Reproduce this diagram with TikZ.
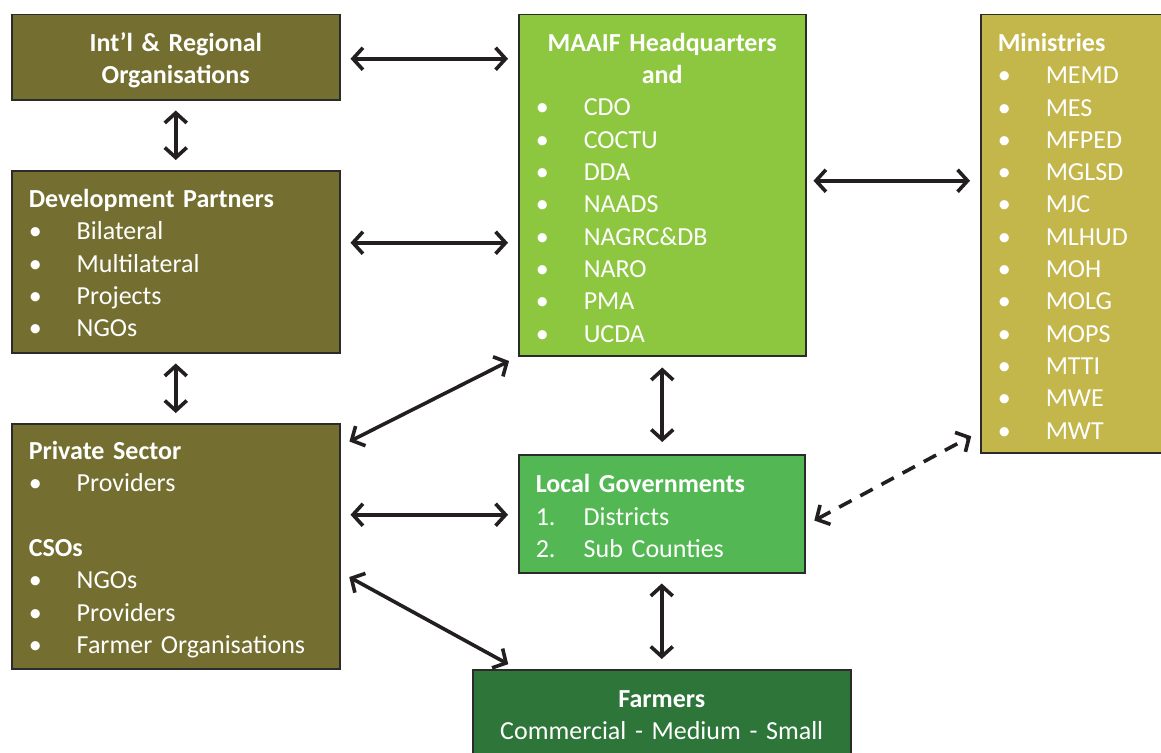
\documentclass[tikz,border=0pt]{standalone}
\usepackage{fontspec}
\setmainfont{Carlito}
\usetikzlibrary{arrows.meta,positioning}
\definecolor{dpolive}{HTML}{746F30}
\definecolor{hqgreen}{HTML}{8DC63F}
\definecolor{minmustard}{HTML}{C3B64A}
\definecolor{lggreen}{HTML}{53B853}
\definecolor{frgreen}{HTML}{2D7539}
\definecolor{boxline}{HTML}{2B2B2B}
\definecolor{arrowc}{HTML}{231F20}
\newcommand{\itm}[1]{\makebox[48pt][l]{\textbullet}#1}
\newcommand{\num}[2]{\makebox[48pt][l]{#1}#2}
\newcommand{\topgap}[1]{\rule{0pt}{#1}}
\tikzset{
	box/.style={draw=boxline,line width=1.5pt,rectangle,anchor=north west,inner xsep=17pt,inner ysep=0pt,
		text=white,align=left,font=\fontsize{26}{32.3}\selectfont},
	both/.style={{Straight Barb[length=10pt,width=22pt]}-{Straight Barb[length=10pt,width=22pt]},
		line width=3.6pt,draw=arrowc,shorten <=10pt,shorten >=10pt},
	dashboth/.style={both,dash pattern=on 14pt off 10pt}
}
\begin{document}
\begin{tikzpicture}[x=1pt,y=-1pt]
	\useasboundingbox (0,0) rectangle (1161,752);
	\clip (0,0) rectangle (1161,752);
	\node[box,fill=dpolive,align=center,minimum width=328pt,minimum height=85pt,text width=294pt] (intl) at (11,14)
		{\topgap{25pt}\bfseries Int'l \& Regional\\\bfseries Organisations};
	\node[box,fill=dpolive,minimum width=328pt,minimum height=182pt,text width=294pt] (dev) at (11,170)
		{\topgap{21pt}\textbf{Development Partners}\\\itm{Bilateral}\\\itm{Multilateral}\\\itm{Projects}\\\itm{NGOs}};
	\node[box,fill=dpolive,minimum width=328pt,minimum height=245pt,text width=294pt] (priv) at (11,423)
		{\topgap{25pt}\textbf{Private Sector}\\\itm{Providers}\\\mbox{}\\\textbf{CSOs}\\\itm{NGOs}\\\itm{Providers}\\\itm{Farmer Organisations}};
	\node[box,fill=hqgreen,minimum width=287pt,minimum height=341pt,text width=253pt] (hq) at (518,14)
		{\topgap{23pt}\makebox[253pt]{\bfseries MAAIF Headquarters}\\\makebox[253pt]{\bfseries and}\\\itm{CDO}\\\itm{COCTU}\\\itm{DDA}\\
		\itm{NAADS}\\\itm{NAGRC\&DB}\\\itm{NARO}\\\itm{PMA}\\\itm{UCDA}};
	\node[box,fill=minmustard,minimum width=190pt,minimum height=438pt,text width=156pt] (mins) at (980,14)
		{\topgap{23pt}\textbf{Ministries}\\\itm{MEMD}\\\itm{MES}\\\itm{MFPED}\\\itm{MGLSD}\\\itm{MJC}\\\itm{MLHUD}\\
		\itm{MOH}\\\itm{MOLG}\\\itm{MOPS}\\\itm{MTTI}\\\itm{MWE}\\\itm{MWT}};
	\node[box,fill=lggreen,minimum width=286pt,minimum height=118pt,text width=252pt] (lg) at (518,454)
		{\topgap{23pt}\textbf{Local Governments}\\\num{1.}{Districts}\\\num{2.}{Sub Counties}};
	\node[box,fill=frgreen,align=center,minimum width=378pt,minimum height=91pt,text width=344pt] (farm) at (472,669)
		{\textbf{Farmers}\\Commercial - Medium - Small};
	\draw[both] ([yshift=-1.5pt]intl.east) -- ([yshift=-1.5pt]intl.east -| hq.west);
	\draw[both] (intl) -- (dev);
	\draw[both] ([yshift=19pt]dev.east) -- ([yshift=19pt]dev.east -| hq.west);
	\draw[both] (dev) -- (priv);
	\draw[both,shorten <=7pt] ([yshift=4.5pt]hq.east) -- ([yshift=4.5pt]hq.east -| mins.west);
	\draw[both] ([yshift=-23pt]priv.north east) -- (hq.south west);
	\draw[both,shorten <=11pt,shorten >=12pt] (hq) -- (hq.south |- lg.north);
	\draw[both] ([yshift=31.5pt]priv.east) -- ([yshift=31.5pt]priv.east -| lg.west);
	\draw[both] ([yshift=-26pt]priv.east) -- ([xshift=45pt]farm.north west);
	\draw[both] (lg.south) -- (lg.south |- farm.north);
	\draw[dashboth] ([yshift=-11.5pt]lg.east) -- ([yshift=22pt]mins.south west);
\end{tikzpicture}
\end{document}
